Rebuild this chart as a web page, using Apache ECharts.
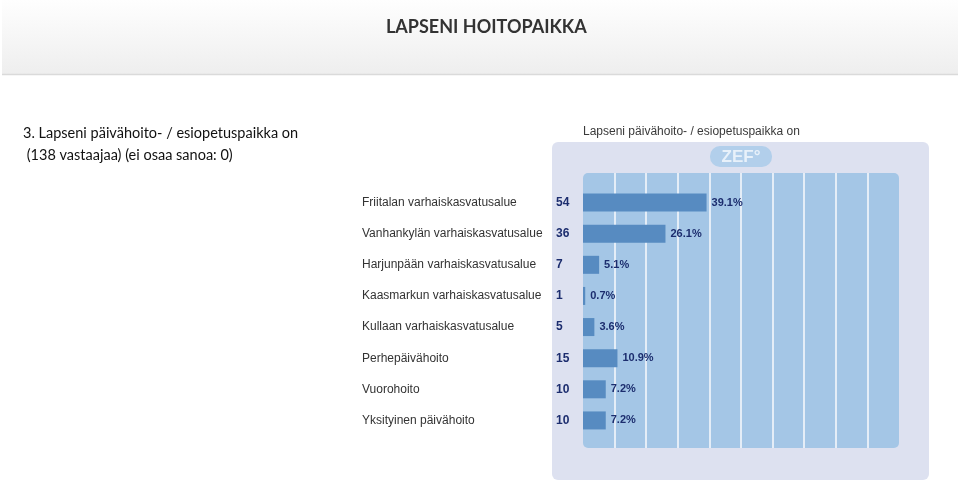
<!DOCTYPE html>
<html>
<head>
<meta charset="utf-8">
<script src="https://cdn.jsdelivr.net/npm/echarts@6/dist/echarts.min.js"></script>
<style>
  html, body { margin: 0; padding: 0; background: #ffffff; }
  #lapsenihoitopaikka { width: 960px; height: 483px; }
</style>
</head>
<body>
<div id="lapsenihoitopaikka"></div>
<script>
// alueet (kategoriat), vastaajien määrät ja prosentit
var alueet = [
  "Friitalan varhaiskasvatusalue",
  "Vanhankylän varhaiskasvatusalue",
  "Harjunpään varhaiskasvatusalue",
  "Kaasmarkun varhaiskasvatusalue",
  "Kullaan varhaiskasvatusalue",
  "Perhepäivähoito",
  "Vuorohoito",
  "Yksityinen päivähoito"
];
var maarat = [54, 36, 7, 1, 5, 15, 10, 10];
var prosentit = [39.1, 26.1, 5.1, 0.7, 3.6, 10.9, 7.2, 7.2];

var myChart = echarts.init(document.getElementById("lapsenihoitopaikka"));

var option = {
  backgroundColor: "#ffffff",
  animation: false,
  title: [
    {
      text: "LAPSENI HOITOPAIKKA",
      left: 381,
      top: 13,
      textStyle: { fontFamily: "Lato", fontSize: 18, fontWeight: "bold", color: "#333333" }
    },
    {
      text: "3. Lapseni päivähoito- / esiopetuspaikka on\n (138 vastaajaa) (ei osaa sanoa: 0)",
      left: 18,
      top: 117,
      textStyle: { fontFamily: "Lato", fontSize: 14.5, fontWeight: "normal", color: "#111111", lineHeight: 22 }
    },
    {
      text: "Lapseni päivähoito- / esiopetuspaikka on",
      left: 578,
      top: 121,
      textStyle: { fontFamily: "Liberation Sans", fontSize: 12, fontWeight: "normal", color: "#3a3a3a" }
    }
  ],
  graphic: [
    {
      type: "rect", z: -10,
      shape: { x: 2, y: 0, width: 956, height: 75 },
      style: {
        fill: new echarts.graphic.LinearGradient(0, 0, 0, 1, [
          { offset: 0, color: "#fefefe" },
          { offset: 1, color: "#eeeeee" }
        ])
      }
    },
    {
      type: "line", z: -9,
      shape: { x1: 2, y1: 74.5, x2: 958, y2: 74.5 },
      style: { stroke: "#dadada", lineWidth: 1.5 }
    },
    {
      type: "rect", z: -10,
      shape: { x: 552, y: 142, width: 377, height: 338, r: 6 },
      style: { fill: "#dde1f0" }
    },
    {
      type: "rect", z: -9,
      shape: { x: 583, y: 173, width: 316, height: 275, r: 5 },
      style: { fill: "#a4c6e6" }
    },
    {
      type: "rect", z: -9,
      shape: { x: 710, y: 146, width: 62, height: 21, r: 10 },
      style: { fill: "#b2cfeb" }
    },
    {
      type: "text", z: -8,
      style: {
        x: 741, y: 157, text: "ZEF°", align: "center", verticalAlign: "middle",
        fill: "#e8f1fa", font: "bold 17px Liberation Sans"
      }
    }
  ],
  grid: [
    { left: 583, top: 173, width: 316, height: 275 },
    { left: 583, top: 187, width: 316, height: 249 }
  ],
  xAxis: [
    {
      gridIndex: 0, type: "value", min: 0, max: 100, interval: 10,
      axisLine: { show: false }, axisTick: { show: false }, axisLabel: { show: false },
      splitLine: { show: true, showMinLine: false, showMaxLine: false, lineStyle: { color: "#e4edf7", width: 2 } }
    },
    {
      gridIndex: 1, type: "value", min: 0, max: 100,
      axisLine: { show: false }, axisTick: { show: false }, axisLabel: { show: false },
      splitLine: { show: false }
    }
  ],
  yAxis: [
    { gridIndex: 0, type: "value", show: false },
    {
      gridIndex: 1, type: "category", inverse: true, data: alueet,
      axisLine: { show: false }, axisTick: { show: false },
      axisLabel: {
        align: "left",
        margin: 221,
        formatter: function (value, index) {
          return "{n|" + value + "}{c|" + maarat[index] + "}";
        },
        rich: {
          n: { width: 194, fontFamily: "Liberation Sans", fontSize: 12, color: "#333333" },
          c: { fontFamily: "Liberation Sans", fontSize: 12, fontWeight: "bold", color: "#1c2d6e" }
        }
      }
    }
  ],
  series: [
    {
      type: "bar",
      xAxisIndex: 1,
      yAxisIndex: 1,
      data: prosentit,
      barWidth: 18,
      itemStyle: { color: "#578bc1" },
      label: {
        show: true,
        position: "right",
        distance: 5,
        formatter: function (p) { return p.value.toFixed(1) + "%"; },
        fontFamily: "Liberation Sans",
        fontSize: 11,
        fontWeight: "bold",
        color: "#1c2d6e"
      }
    }
  ]
};

myChart.setOption(option);
window.addEventListener("resize", function () {
  myChart.resize();
});
</script>
</body>
</html>
